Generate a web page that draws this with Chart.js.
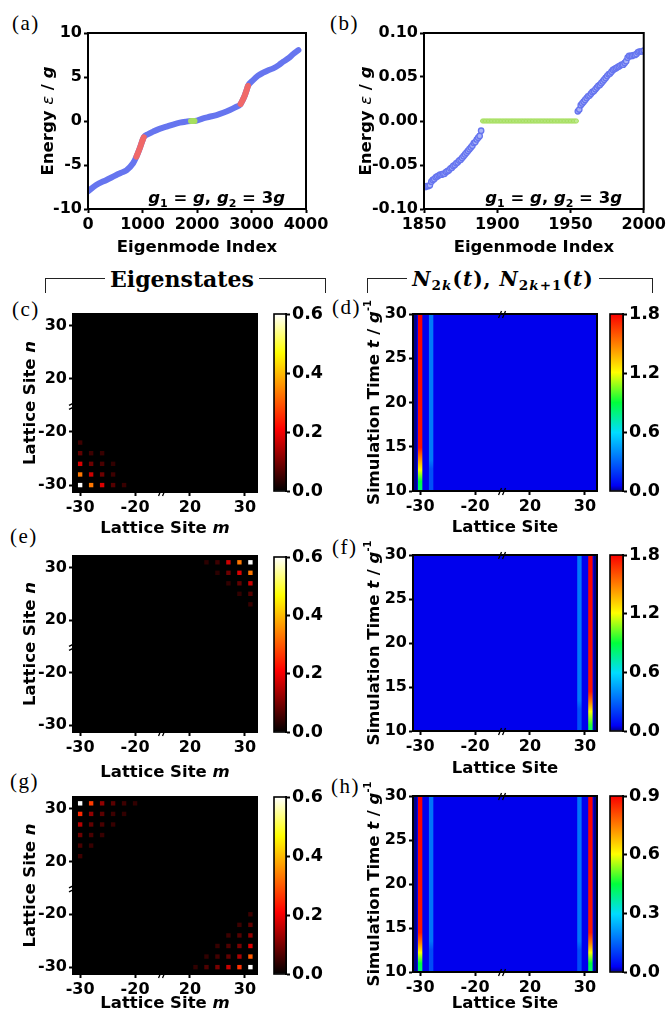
<!DOCTYPE html>
<html>
<head>
<meta charset="utf-8">
<title>Eigenstates and edge dynamics</title>
<script src="https://cdn.jsdelivr.net/npm/chart.js@4.4.1/dist/chart.umd.min.js"></script>
<style>
  body { margin: 0; background: #fff; }
  #page { position: relative; width: 668px; height: 1019px; overflow: hidden; background: #fff; }
  #page canvas { position: absolute; left: 0; top: 0; }
  .pl { position: absolute; font: 21px/22px "Liberation Serif", serif; letter-spacing: 1.5px; color: #000; }
  .brk { position: absolute; height: 15px; border: 1px solid #222; border-bottom: none; box-sizing: border-box; }
  .hd { position: absolute; height: 30px; line-height: 30px; text-align: center; white-space: nowrap;
        font-family: "DejaVu Serif", serif; font-weight: bold; color: #000; }
  .hd span { background: #fff; padding: 0 5px; }
  .hd sub { font-size: 0.68em; vertical-align: -0.3em; line-height: 0; }
</style>
</head>
<body>
<div id="page">
  <div class="pl" style="left:12px;top:12px">(a)</div>
  <div class="pl" style="left:330px;top:12px">(b)</div>
  <div class="pl" style="left:12px;top:298px">(c)</div>
  <div class="pl" style="left:332px;top:296px">(d)</div>
  <div class="pl" style="left:10px;top:525px">(e)</div>
  <div class="pl" style="left:332px;top:536px">(f)</div>
  <div class="pl" style="left:10px;top:770px">(g)</div>
  <div class="pl" style="left:331px;top:775px">(h)</div>

  <div class="brk" style="left:45px;top:278px;width:281px"></div>
  <div class="hd" style="left:82px;width:200px;top:264px;font-size:22px"><span>Eigenstates</span></div>
  <div class="brk" style="left:367px;top:278px;width:286px"></div>
  <div class="hd" style="left:383px;width:240px;top:264px;font-size:20px;letter-spacing:1px"><span><i>N</i><sub>2<i>k</i></sub>(<i>t</i>), <i>N</i><sub>2<i>k</i>+1</sub>(<i>t</i>)</span></div>
</div>
<script>
// ---------- data ----------
// (a) whole spectrum, g1 = g, g2 = 3g
const aIndex = [0, 150, 340, 520, 613, 705, 827, 889, 950, 1000, 1023, 1100, 1194, 1300, 1440, 1560, 1685, 1800, 1890,
                1954, 2113, 2230, 2358, 2480, 2603, 2700, 2800, 2840, 2879, 2910, 2935, 3032, 3120, 3215, 3300, 3399,
                3500, 3583, 3680, 3766, 3860];
const aEnergy = [-8.0, -7.27, -6.7, -6.14, -5.87, -5.6, -4.8, -4.05, -3.1, -2.2, -1.85, -1.5, -1.21, -0.92, -0.64, -0.4, -0.19, -0.07, 0.0,
                 0.0, 0.3, 0.48, 0.68, 0.93, 1.25, 1.55, 1.93, 2.4, 2.95, 3.5, 3.98, 4.66, 5.15, 5.49, 5.75, 5.98,
                 6.35, 6.74, 7.15, 7.61, 8.05];
const aEdgeBands = [[889, 1023], [2800, 2935]];
const aZeroBand = [1890, 1954];

// (b) zoom around zero energy
const bIndexLow = [1850, 1851, 1852, 1853, 1854, 1855, 1856, 1857, 1858, 1859,
                   1860, 1861, 1862, 1863, 1864, 1865, 1866, 1867, 1868, 1869,
                   1870, 1871, 1872, 1873, 1874, 1875, 1876, 1877, 1878, 1879,
                   1880, 1881, 1882, 1883, 1884, 1885, 1886, 1887, 1888, 1889];
const bEnergyLow = [-0.075, -0.075, -0.074, -0.074, -0.073, -0.069, -0.067, -0.066, -0.064, -0.063,
                    -0.062, -0.061, -0.061, -0.060, -0.060, -0.058, -0.057, -0.056, -0.054, -0.053,
                    -0.051, -0.050, -0.048, -0.047, -0.045, -0.044, -0.042, -0.040, -0.038, -0.036,
                    -0.034, -0.032, -0.030, -0.028, -0.025, -0.024, -0.021, -0.019, -0.017, -0.011];
const bIndexZero = [1890, 1891, 1892, 1893, 1894, 1895, 1896, 1897, 1898, 1899, 1900, 1901, 1902,
                    1903, 1904, 1905, 1906, 1907, 1908, 1909, 1910, 1911, 1912, 1913, 1914, 1915,
                    1916, 1917, 1918, 1919, 1920, 1921, 1922, 1923, 1924, 1925, 1926, 1927, 1928,
                    1929, 1930, 1931, 1932, 1933, 1934, 1935, 1936, 1937, 1938, 1939, 1940, 1941,
                    1942, 1943, 1944, 1945, 1946, 1947, 1948, 1949, 1950, 1951, 1952, 1953, 1954];
const bEnergyZero = [0, 0, 0, 0, 0, 0, 0, 0, 0, 0, 0, 0, 0,
                     0, 0, 0, 0, 0, 0, 0, 0, 0, 0, 0, 0, 0,
                     0, 0, 0, 0, 0, 0, 0, 0, 0, 0, 0, 0, 0,
                     0, 0, 0, 0, 0, 0, 0, 0, 0, 0, 0, 0, 0,
                     0, 0, 0, 0, 0, 0, 0, 0, 0, 0, 0, 0, 0];
const bIndexHigh = [1955, 1956, 1957, 1958, 1959, 1960, 1961, 1962, 1963, 1964,
                    1965, 1966, 1967, 1968, 1969, 1970, 1971, 1972, 1973, 1974,
                    1975, 1976, 1977, 1978, 1979, 1980, 1981, 1982, 1983, 1984,
                    1985, 1986, 1987, 1988, 1989, 1990, 1991, 1992, 1993, 1994,
                    1995, 1996, 1997, 1998, 1999, 2000];
const bEnergyHigh = [0.011, 0.013, 0.018, 0.020, 0.022, 0.024, 0.026, 0.028, 0.029, 0.031,
                     0.033, 0.034, 0.036, 0.038, 0.040, 0.041, 0.043, 0.045, 0.047, 0.049,
                     0.051, 0.053, 0.054, 0.056, 0.058, 0.059, 0.060, 0.061, 0.062, 0.063,
                     0.064, 0.064, 0.066, 0.068, 0.072, 0.074, 0.074, 0.074, 0.075, 0.075,
                     0.076, 0.078, 0.079, 0.079, 0.079, 0.080];

// lattice axes (broken between -20 and 20)
const siteTicks = [-30, -20, 20, 30];
const timeTicksStep = 5;

// (c) corner state, |psi(m,n)|
const cSiteM = [-30, -28, -26, -24, -22, -30, -28, -26, -24, -30, -28, -26, -24, -30, -28, -26, -30];
const cSiteN = [-30, -30, -30, -30, -30, -28, -28, -28, -28, -26, -26, -26, -26, -24, -24, -24, -22];
const cAmp   = [0.6, 0.33, 0.18, 0.07, 0.045, 0.33, 0.17, 0.09, 0.05, 0.18, 0.09, 0.06, 0.04, 0.08, 0.05, 0.045, 0.05];
// (e)
const eSiteM = [23, 25, 27, 29, 31, 25, 27, 29, 31, 27, 29, 31, 29, 31, 31];
const eSiteN = [31, 31, 31, 31, 31, 29, 29, 29, 29, 27, 27, 27, 25, 25, 23];
const eAmp   = [0.035, 0.05, 0.17, 0.33, 0.6, 0.035, 0.09, 0.18, 0.33, 0.04, 0.08, 0.17, 0.04, 0.07, 0.045];
// (g) two corners
const gSiteM = [-30, -28, -26, -24, -22, -20, -30, -28, -26, -24, -22, -30, -28, -26, -24, -30, -28, -26, -30, -28, -30,
                31, 29, 27, 25, 23, 21, 31, 29, 27, 25, 23, 31, 29, 27, 25, 31, 29, 27, 31, 29, 31];
const gSiteN = [31, 31, 31, 31, 31, 31, 29, 29, 29, 29, 29, 27, 27, 27, 27, 25, 25, 25, 23, 23, 21,
                -30, -30, -30, -30, -30, -30, -28, -28, -28, -28, -28, -26, -26, -26, -26, -24, -24, -24, -22, -22, -20];
const gAmp   = [0.6, 0.27, 0.12, 0.075, 0.05, 0.04, 0.25, 0.12, 0.075, 0.05, 0.04, 0.15, 0.08, 0.06, 0.045, 0.09, 0.06, 0.045, 0.06, 0.045, 0.05,
                0.6, 0.26, 0.165, 0.1, 0.065, 0.04, 0.3, 0.14, 0.08, 0.055, 0.04, 0.18, 0.1, 0.065, 0.045, 0.12, 0.07, 0.05, 0.08, 0.05, 0.05];
const eigenMax = 0.6;

// (d) N(t) on edge columns
const dSites = [-31, -30, -28];
const dTimes = [[10, 30], [10, 11.1, 12.4, 13.8, 14.9, 30], [10, 12.5, 13.5, 30]];
const dN     = [[0, 0], [0.8, 0.9, 1.2, 1.5, 1.75, 1.8], [0.25, 0.25, 0.35, 0.35]];
const dBulk = 0.05;
// (f)
const fSites = [29, 31, 32];
const fTimes = [[10, 12.5, 13.5, 30], [10, 10.7, 12.2, 13.3, 14.5, 30], [10, 30]];
const fN     = [[0.25, 0.25, 0.35, 0.35], [0.8, 0.95, 1.2, 1.5, 1.75, 1.8], [0, 0]];
const fBulk = 0.05;
// (h)
const hSites = [-31, -30, -28, 29, 31, 32];
const hTimes = [[10, 30], [10, 11, 12.2, 13.3, 14.5, 30], [10, 12.5, 13.5, 30],
                [10, 12.5, 13.5, 30], [10, 11, 12.2, 13.3, 14.5, 30], [10, 30]];
const hN     = [[0, 0], [0.4, 0.45, 0.6, 0.75, 0.87, 0.9], [0.12, 0.12, 0.17, 0.17],
                [0.12, 0.12, 0.17, 0.17], [0.4, 0.45, 0.6, 0.75, 0.87, 0.9], [0, 0]];
const hBulk = 0.025;

// ---------- helpers ----------
const PAGE_W = 668, PAGE_H = 1019;
const U_MIN = -31.3, U_MAX = 2.2;
const blue = '#6675ef', red = '#f06868', green = '#a6df5e';

const hotStops = [[0, [0, 0, 0]], [0.35, [255, 0, 0]], [0.78, [255, 255, 0]], [1, [255, 255, 255]]];
const jetStops = [[0, [0, 0, 140]], [0.03, [0, 0, 245]], [0.33, [0, 220, 255]], [0.5, [0, 255, 60]],
                  [0.67, [255, 255, 0]], [0.83, [255, 128, 0]], [1, [250, 0, 0]]];

Chart.defaults.font.family = '"DejaVu Sans", sans-serif';
Chart.defaults.color = '#000';

// broken axis: negative sites as they are, positive sites shifted next to them
function siteToU(s) { return s < 0 ? s : s - 30; }
const breakU = siteToU(-15);

function cmap(stops, t) {
  t = Math.max(0, Math.min(1, t));
  for (let i = 1; i < stops.length; i++) {
    if (t <= stops[i][0]) {
      const t0 = stops[i - 1][0], c0 = stops[i - 1][1], t1 = stops[i][0], c1 = stops[i][1];
      const f = (t - t0) / (t1 - t0);
      return 'rgb(' + c0.map((c, k) => Math.round(c + (c1[k] - c) * f)).join(',') + ')';
    }
  }
  return 'rgb(' + stops[stops.length - 1][1].join(',') + ')';
}

function newCanvas() {
  const c = document.createElement('canvas');
  c.width = PAGE_W; c.height = PAGE_H;
  document.getElementById('page').appendChild(c);
  return c;
}

function pts(xs, ys) { return xs.map((x, i) => ({x: x, y: ys[i]})); }

// padding that puts the plot area exactly on "area" (axis sizes fixed in afterFit)
function pad(area, ySize, xSize, yRight) {
  return yRight
    ? {left: area.l, right: PAGE_W - area.r - ySize, top: area.t, bottom: PAGE_H - area.b - xSize}
    : {left: area.l - ySize, right: PAGE_W - area.r, top: area.t, bottom: PAGE_H - area.b - xSize};
}

function axis(o) {
  const ax = {
    type: 'linear', position: o.position, min: o.min, max: o.max,
    afterFit: s => { if (s.isHorizontal()) s.height = o.size; else s.width = o.size; },
    border: {display: true, color: '#000', width: 2},
    grid: {drawOnChartArea: false, color: '#000', tickColor: '#000', tickLength: 4, tickWidth: 2},
    ticks: {padding: 2, autoSkip: false, maxRotation: 0, color: '#000', font: {size: o.fontSize || 16, weight: 'bold'},
            callback: o.label || (v => String(v))}
  };
  if (o.step) ax.ticks.stepSize = o.step;
  if (o.tickValues) ax.afterBuildTicks = s => { s.ticks = o.tickValues.map(v => ({value: v})); };
  return ax;
}

function siteAxis(position) {
  return axis({position: position, min: U_MIN, max: U_MAX, size: position === 'bottom' ? 30 : 44,
               tickValues: siteTicks.map(siteToU), label: (v, i) => String(siteTicks[i])});
}

// text made of pieces with their own font: [text, font, dy]
function rich(ctx, segs, x, y, rot) {
  ctx.save();
  ctx.translate(x, y);
  ctx.rotate(rot || 0);
  ctx.fillStyle = '#000';
  ctx.textBaseline = 'alphabetic';
  ctx.textAlign = 'left';
  let total = 0;
  segs.forEach(s => { ctx.font = s[1]; total += ctx.measureText(s[0]).width; });
  let cx = -total / 2;
  segs.forEach(s => { ctx.font = s[1]; ctx.fillText(s[0], cx, s[2] || 0); cx += ctx.measureText(s[0]).width; });
  ctx.restore();
}

function slashes(ctx, x, y, onYAxis) {
  ctx.save();
  ctx.strokeStyle = '#000';
  ctx.lineWidth = 1.3;
  [-2, 2].forEach(o => {
    ctx.beginPath();
    if (onYAxis) { ctx.moveTo(x - 4, y + o + 2); ctx.lineTo(x + 2, y + o - 1); }
    else { ctx.moveTo(x + o - 2, y + 4); ctx.lineTo(x + o + 1, y - 3); }
    ctx.stroke();
  });
  ctx.restore();
}

// frame, background, axis breaks and titles of one panel
function decor(o) {
  return {
    id: 'decor',
    beforeDatasetsDraw(chart) {
      if (!o.fill) return;
      const a = chart.chartArea, c = chart.ctx;
      c.save(); c.fillStyle = o.fill; c.fillRect(a.left, a.top, a.width, a.height); c.restore();
    },
    afterDraw(chart) {
      const a = chart.chartArea, c = chart.ctx;
      c.save();
      c.strokeStyle = '#000';
      c.lineWidth = o.width || 2;
      c.strokeRect(a.left, a.top, a.width, a.height);
      (o.breaks || []).forEach(b => {
        const p = chart.scales[b[0]].getPixelForValue(breakU);
        if (b[0] === 'x') slashes(c, p, b[1] === 'top' ? a.top : a.bottom, false);
        else slashes(c, a.left, p, true);
      });
      (o.texts || []).forEach(t => rich(c, t.segs, t.x(a), t.y(a), t.rot));
      c.restore();
    }
  };
}

const FB = 'bold 16.5px "DejaVu Sans"', FBI = 'italic bold 16.5px "DejaVu Sans"', FI = 'italic 16.5px "DejaVu Sans"';
const FSUB = 'bold 11px "DejaVu Sans"', FSUP = 'bold 10px "DejaVu Sans"';
function xTitle(segs, off) { return {segs: segs, x: a => (a.left + a.right) / 2, y: a => a.bottom + off}; }
function yTitle(segs, off) { return {segs: segs, x: a => a.left - off, y: a => (a.top + a.bottom) / 2, rot: -Math.PI / 2}; }
const tIndex = [['Eigenmode Index', FB]];
const tEnergy = [['Energy ', FB], ['\u03b5', FI], [' / ', FB], ['g', FBI]];
const tCoupling = [['g', FBI], ['1', FSUB, 4], [' = ', FB], ['g', FBI], [', ', FB], ['g', FBI], ['2', FSUB, 4], [' = 3', FB], ['g', FBI]];
const tSiteM = [['Lattice Site ', FB], ['m', FBI]];
const tSiteN = [['Lattice Site ', FB], ['n', FBI]];
const tSite = [['Lattice Site', FB]];
const tTime = [['Simulation Time ', FB], ['t', FBI], [' / ', FB], ['g', FBI], ['-1', FSUP, -8]];

const baseOpts = {responsive: false, animation: false, events: [],
                  plugins: {legend: {display: false}, tooltip: {enabled: false}}};

function colorbar(area, stops, max, step) {
  new Chart(newCanvas(), {
    type: 'bar',
    data: {labels: [''], datasets: [{
      data: [[0, max]], barPercentage: 1, categoryPercentage: 1, borderWidth: 0,
      backgroundColor: ctx => {
        const a = ctx.chart.chartArea;
        if (!a) return '#000';
        const g = ctx.chart.ctx.createLinearGradient(0, a.bottom, 0, a.top);
        stops.forEach(s => g.addColorStop(s[0], 'rgb(' + s[1].join(',') + ')'));
        return g;
      }
    }]},
    options: Object.assign({}, baseOpts, {
      layout: {padding: pad(area, 50, 0, true)},
      scales: {
        x: {display: false},
        y: axis({position: 'right', min: 0, max: max, step: step, size: 50, fontSize: 17.5, label: v => v.toFixed(1)})
      }
    }),
    plugins: [decor({width: 1.6})]
  });
}

function eigenPanel(area, cbArea, ms, ns, amps, titleOff) {
  new Chart(newCanvas(), {
    type: 'scatter',
    data: {datasets: [{
      data: ms.map((m, i) => ({x: siteToU(m), y: siteToU(ns[i]), v: amps[i]})),
      pointStyle: 'rect', borderWidth: 0,
      pointRadius: ctx => {
        const xs = ctx.chart.scales.x;
        return xs ? Math.abs(xs.getPixelForValue(0.8) - xs.getPixelForValue(0)) / Math.SQRT2 : 3;
      },
      pointBackgroundColor: ctx => ctx.raw ? cmap(hotStops, ctx.raw.v / eigenMax) : '#000'
    }]},
    options: Object.assign({}, baseOpts, {
      layout: {padding: pad(area, 44, 30)},
      scales: {x: siteAxis('bottom'), y: siteAxis('left')}
    }),
    plugins: [decor({fill: cmap(hotStops, 0), breaks: [['x', 'bottom'], ['y', 'left']],
                     texts: [xTitle(tSiteM, titleOff), yTitle(tSiteN, 38)]})]
  });
  colorbar(cbArea, hotStops, eigenMax, 0.2);
}

function dynamicsPanel(area, cbArea, sites, times, ns, bulk, nMax, cbStep, titleOff) {
  const datasets = sites.map((s, k) => ({
    data: times[k].map(t => ({x: siteToU(s), y: t})),
    showLine: true, pointRadius: 0, borderCapStyle: 'butt',
    borderWidth: ctx => {
      const xs = ctx.chart.scales.x;
      return xs ? Math.abs(xs.getPixelForValue(0.8) - xs.getPixelForValue(0)) : 4;
    },
    borderColor: ctx => {
      const c = ctx.chart, ys = c.scales.y, ts = times[k];
      if (!ys || !c.chartArea) return '#00f';
      const t0 = ts[0], t1 = ts[ts.length - 1];
      const g = c.ctx.createLinearGradient(0, ys.getPixelForValue(t0), 0, ys.getPixelForValue(t1));
      ts.forEach((t, j) => g.addColorStop((t - t0) / (t1 - t0), cmap(jetStops, ns[k][j] / nMax)));
      return g;
    }
  }));
  new Chart(newCanvas(), {
    type: 'scatter',
    data: {datasets: datasets},
    options: Object.assign({}, baseOpts, {
      layout: {padding: pad(area, 44, 30)},
      scales: {x: siteAxis('bottom'),
               y: axis({position: 'left', min: 10, max: 30, step: timeTicksStep, size: 44})}
    }),
    plugins: [decor({fill: cmap(jetStops, bulk / nMax), breaks: [['x', 'top'], ['x', 'bottom']],
                     texts: [xTitle(tSite, titleOff), yTitle(tTime, 34)]})]
  });
  colorbar(cbArea, jetStops, nMax, cbStep);
}

// ---------- (a) ----------
const aPts = pts(aIndex, aEnergy);
const inBand = b => p => p.x >= b[0] && p.x <= b[1];
const lineStyle = {showLine: true, pointRadius: 0, borderWidth: 6, borderCapStyle: 'round', cubicInterpolationMode: 'monotone'};
new Chart(newCanvas(), {
  type: 'scatter',
  data: {datasets: [
    Object.assign({data: aPts.filter(inBand(aZeroBand)), borderColor: green}, lineStyle),
    ...aEdgeBands.map(b => Object.assign({data: aPts.filter(inBand(b)), borderColor: red}, lineStyle)),
    Object.assign({data: aPts, borderColor: blue}, lineStyle)
  ]},
  options: Object.assign({}, baseOpts, {
    layout: {padding: pad({l: 88, r: 306, t: 33, b: 209}, 50, 30)},
    scales: {
      x: axis({position: 'bottom', min: 0, max: 4000, step: 1000, size: 30}),
      y: axis({position: 'left', min: -10, max: 10, step: 5, size: 50})
    }
  }),
  plugins: [decor({texts: [xTitle(tIndex, 43), yTitle(tEnergy, 35),
                           {segs: tCoupling, x: a => a.left + a.width * 0.59, y: a => a.bottom - 6}]})]
});

// ---------- (b) ----------
new Chart(newCanvas(), {
  type: 'scatter',
  data: {datasets: [
    {data: pts(bIndexZero, bEnergyZero), pointRadius: 2.1, pointBorderWidth: 1, pointBackgroundColor: '#c0ea94', pointBorderColor: green},
    {data: pts(bIndexLow, bEnergyLow), pointRadius: 2.7, pointBorderWidth: 1.3, pointBackgroundColor: '#aab3f8', pointBorderColor: blue},
    {data: pts(bIndexHigh, bEnergyHigh), pointRadius: 2.7, pointBorderWidth: 1.3, pointBackgroundColor: '#aab3f8', pointBorderColor: blue}
  ]},
  options: Object.assign({}, baseOpts, {
    layout: {padding: pad({l: 424, r: 644, t: 33, b: 209}, 64, 30)},
    scales: {
      x: axis({position: 'bottom', min: 1850, max: 2000, step: 50, size: 30}),
      y: axis({position: 'left', min: -0.1, max: 0.1, step: 0.05, size: 64,
               label: v => (Math.abs(v) < 1e-9 ? 0 : v).toFixed(2)})
    }
  }),
  plugins: [decor({texts: [xTitle(tIndex, 43), yTitle(tEnergy, 53),
                           {segs: tCoupling, x: a => a.left + a.width * 0.59, y: a => a.bottom - 6}]})]
});

// ---------- heat maps ----------
eigenPanel({l: 73, r: 257, t: 314, b: 492}, {l: 274, r: 286, t: 314, b: 491}, cSiteM, cSiteN, cAmp, 41);
dynamicsPanel({l: 413, r: 597, t: 314, b: 491}, {l: 610, r: 623, t: 314, b: 491}, dSites, dTimes, dN, dBulk, 1.8, 0.6, 41);
eigenPanel({l: 73, r: 257, t: 556, b: 732}, {l: 274, r: 286, t: 557, b: 732}, eSiteM, eSiteN, eAmp, 45);
dynamicsPanel({l: 413, r: 597, t: 555, b: 731}, {l: 610, r: 623, t: 555, b: 731}, fSites, fTimes, fN, fBulk, 1.8, 0.6, 42);
eigenPanel({l: 73, r: 257, t: 797, b: 974}, {l: 274, r: 286, t: 797, b: 974}, gSiteM, gSiteN, gAmp, 34);
dynamicsPanel({l: 413, r: 597, t: 796, b: 972}, {l: 610, r: 623, t: 796, b: 972}, hSites, hTimes, hN, hBulk, 0.9, 0.3, 36);
</script>
</body>
</html>
